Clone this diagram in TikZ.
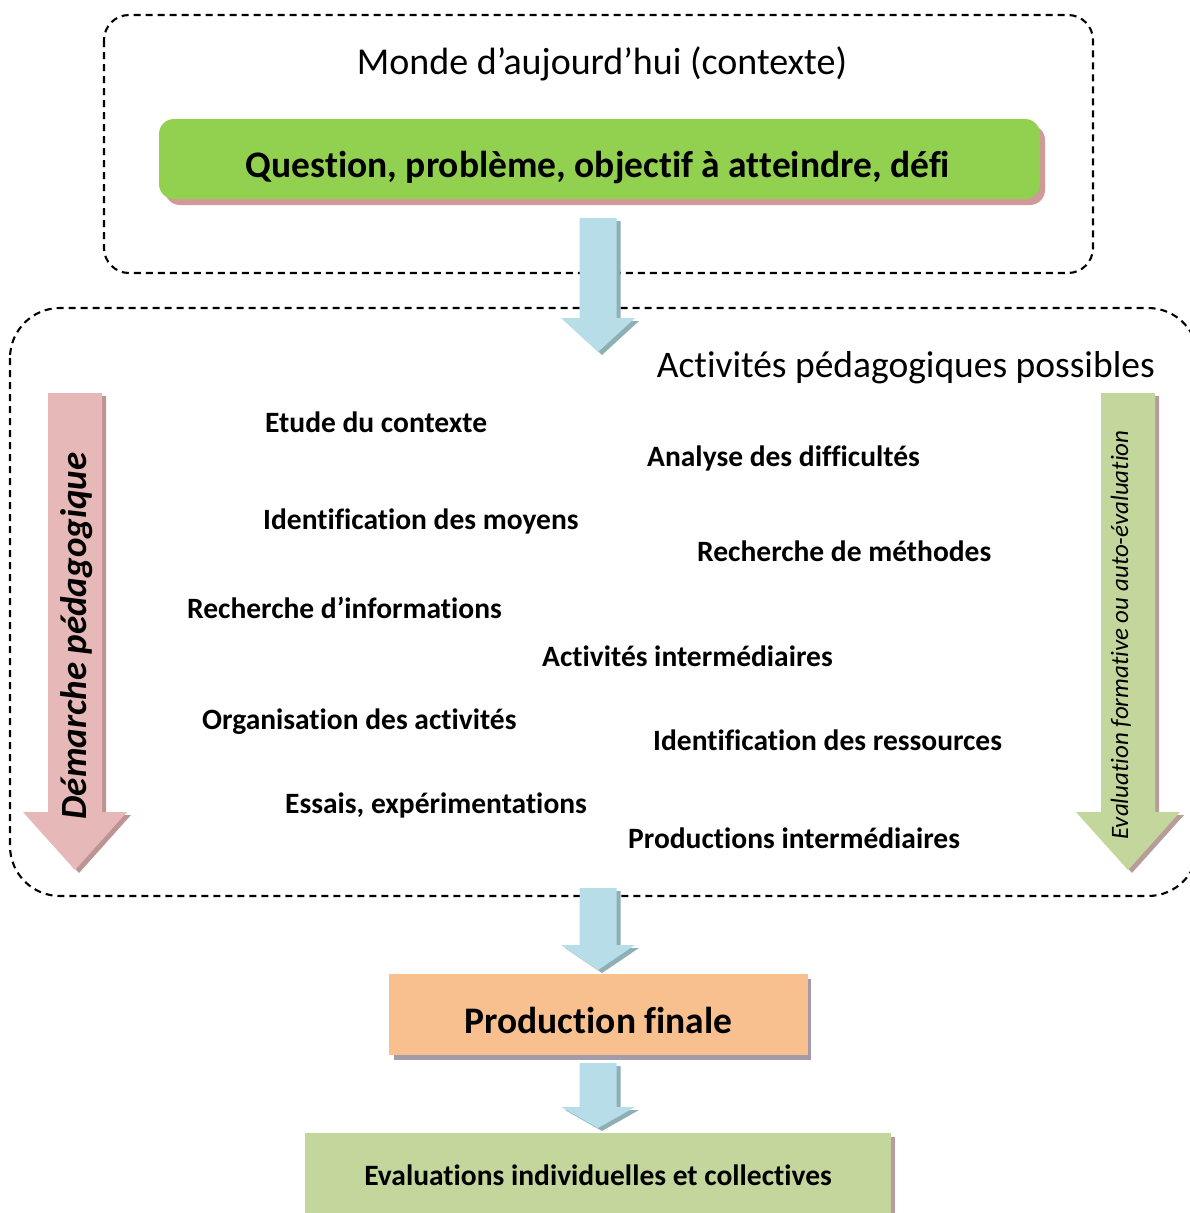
\documentclass[tikz,border=0pt]{standalone}
\usepackage{fontspec}
\setmainfont{Carlito}[Ligatures=NoCommon]
\definecolor{qgreen}{HTML}{92D050}
\definecolor{qshadow}{HTML}{D09A9A}
\definecolor{barrowfill}{HTML}{B7DDE8}
\definecolor{barrowshade}{HTML}{8FAFB6}
\definecolor{pinkarrow}{HTML}{E6B8B7}
\definecolor{pinkshade}{HTML}{BC9494}
\definecolor{olivegreen}{HTML}{C3D69B}
\definecolor{oliveshade}{HTML}{B89C9C}
\definecolor{orangebox}{HTML}{F8BF8F}
\definecolor{orangeshade}{HTML}{A39BAA}
\newcommand\blockarrow[8]{% xc, ytop, yneck, ytip, half shaft, half head, fill, shadow
  \fill[#8] ({#1-#5+4},{#2+3}) -- ({#1+#5+4},{#2+3}) -- ({#1+#5+4},{#3+3}) -- ({#1+#6+4},{#3+3})
     -- ({#1+4},{#4+3}) -- ({#1-#6+4},{#3+3}) -- ({#1-#5+4},{#3+3}) -- cycle;
  \fill[#7] ({#1-#5},{#2}) -- ({#1+#5},{#2}) -- ({#1+#5},{#3}) -- ({#1+#6},{#3})
     -- ({#1},{#4}) -- ({#1-#6},{#3}) -- ({#1-#5},{#3}) -- cycle;
}
\begin{document}
\begin{tikzpicture}[x=1pt,y=-1pt,
  dashbox/.style={draw, line width=2.1pt, dash pattern=on 7pt off 5pt},
  item/.style={anchor=west, inner sep=0pt, font=\fontsize{29.5}{34}\selectfont\bfseries},
  ]
\useasboundingbox (0,0) rectangle (1190,1213);
\clip (0,0) rectangle (1190,1213);
\fill[white] (0,0) rectangle (1190,1213);

% top context box
\draw[dashbox, rounded corners=25pt] (104,15) rectangle (1093,273);
\node[inner sep=0pt, font=\fontsize{38}{44}\selectfont] (monde) at (602,64) {Monde d’aujourd’hui (contexte)};
\fill[qshadow, rounded corners=15pt] (165,125) rectangle (1045,205);
\node[fill=qgreen, rounded corners=15pt, minimum width=881pt, minimum height=80pt, inner sep=0pt] (question) at (599.5,159) {};
\node[inner sep=0pt, font=\fontsize{37.5}{44}\selectfont\bfseries] (qtext) at (598,168) {Question, problème, objectif à atteindre, défi};

% activities box
\draw[dashbox, rounded corners=50pt] (10,308) rectangle (1198,896);
\node[anchor=east, inner sep=0pt, font=\fontsize{37.5}{44}\selectfont] (activ) at (1155,368) {Activités pédagogiques possibles};

% arrows
\blockarrow{598}{218}{318}{352}{18.5}{37}{barrowfill}{barrowshade}
\blockarrow{598}{888}{945}{970}{18.5}{37}{barrowfill}{barrowshade}
\blockarrow{598}{1063}{1107}{1128}{18.5}{37}{barrowfill}{barrowshade}
\blockarrow{75}{393}{812}{870}{27}{52}{pinkarrow}{pinkshade}
\blockarrow{1128}{393}{812}{870}{27}{52}{olivegreen}{oliveshade}

\node[rotate=90, inner sep=0pt, font=\fontsize{37}{42}\selectfont\bfseries\itshape] (demarche) at (77,636) {Démarche pédagogique};
\node[rotate=90, inner sep=0pt, font=\fontsize{25}{30}\selectfont\itshape] (evalform) at (1121,635) {Evaluation formative ou auto-évaluation};

% items
\node[item] (i1) at (265,422) {Etude du contexte};
\node[item] (i2) at (647,458) {Analyse des difficultés};
\node[item] (i3) at (263,521) {Identification des moyens};
\node[item] (i4) at (697,551) {Recherche de méthodes};
\node[item] (i5) at (187,608) {Recherche d’informations};
\node[item] (i6) at (542,656) {Activités intermédiaires};
\node[item] (i7) at (202,722) {Organisation des activités};
\node[item] (i8) at (653,740) {Identification des ressources};
\node[item] (i9) at (285,805) {Essais, expérimentations};
\node[item] (i10) at (628,838) {Productions intermédiaires};

% production finale
\fill[orangeshade] (394,979) rectangle (811,1060);
\node[fill=orangebox, minimum width=419pt, minimum height=81pt, inner sep=0pt] (prod) at (598.5,1014.5) {};
\node[inner sep=0pt, font=\fontsize{37.5}{44}\selectfont\bfseries] (prodtext) at (598.5,1020) {Production finale};

% evaluations
\fill[oliveshade] (309,1137) rectangle (895,1220);
\node[fill=olivegreen, minimum width=586pt, minimum height=84pt, inner sep=0pt,
  font=\fontsize{29.5}{34}\selectfont\bfseries] (evals) at (598,1175) {Evaluations individuelles et collectives};
\end{tikzpicture}
\end{document}
